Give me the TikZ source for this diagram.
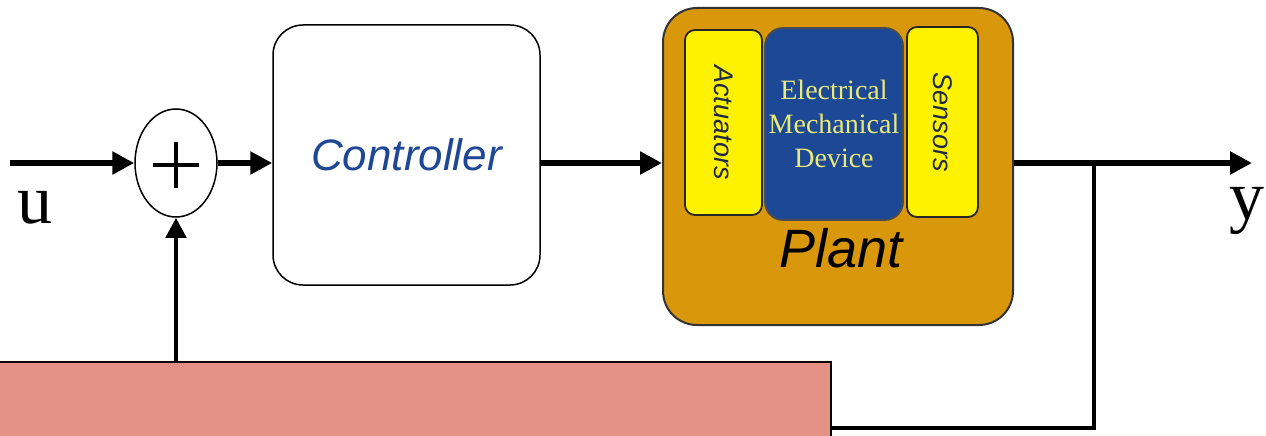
\documentclass[tikz,border=0pt]{standalone}
\usepackage{fontspec}
\setmainfont{Liberation Serif}
\setsansfont{Liberation Sans}
\usetikzlibrary{arrows.meta,shapes.geometric}

\definecolor{plantorange}{RGB}{217,152,12}
\definecolor{deviceblue}{RGB}{28,72,150}
\definecolor{paleyellow}{RGB}{234,234,120}
\definecolor{ctrlblue}{RGB}{30,72,150}
\definecolor{sidetext}{RGB}{30,42,70}
\definecolor{coverpink}{RGB}{230,145,133}

\begin{document}
\begin{tikzpicture}[x=1pt,y=-1pt,
  sig/.style={line width=5.5pt,-{Triangle[length=22pt,width=22pt]}},
  fb/.style={line width=4.5pt,-{Triangle[length=20pt,width=20pt]}},
  sumnode/.style={draw, ellipse, line width=1.5pt, minimum width=82pt, minimum height=108pt, inner sep=0pt},
  ctrlbox/.style={draw, line width=1.5pt, rounded corners=30pt, fill=white, minimum width=267pt, minimum height=260pt},
  plantbox/.style={draw=black!80, line width=2pt, rounded corners=34pt, fill=plantorange, minimum width=350pt, minimum height=317pt},
  sidebox/.style={draw=black!85, line width=1.8pt, rounded corners=10pt, fill=yellow, inner sep=0pt,
    font=\fontsize{27}{30}\selectfont\sffamily\itshape, text=sidetext},
  devbox/.style={draw=black!70, line width=1.8pt, rounded corners=18pt, fill=deviceblue, minimum width=138pt, minimum height=192pt,
    align=center, text=paleyellow, font=\fontsize{28}{34}\selectfont}]
  \useasboundingbox (0,0) rectangle (1266,436);

  % Summing junction
  \node[sumnode] (sum) at (176,163) {};
  \draw[line width=3.5pt] (sum.center) ++(-23,2) -- ++(46,0);
  \draw[line width=3.5pt] (sum.center) ++(0,-21) -- ++(0,46);

  % Controller
  \node[ctrlbox, text=ctrlblue, font=\fontsize{44}{48}\selectfont\sffamily\itshape] (ctrl) at (406.5,155) {Controller};

  % Plant
  \node[plantbox] (plant) at (838,166.5) {};
  \node[sidebox, rotate=-90, minimum width=185pt, minimum height=77pt] (act) at (723.5,122.5) {Actuators};
  \node[devbox] (dev) at (834,124) {Electrical\\Mechanical\\Device};
  \node[sidebox, rotate=-90, minimum width=190pt, minimum height=71pt] (sens) at (942.5,122) {Sensors};
  \node[font=\fontsize{54}{58}\selectfont\sffamily\itshape] (plantlbl) at (841,248) {Plant};

  % Signals
  \coordinate (uin) at (10,163);
  \coordinate (yout) at (1252,163);
  \coordinate (tap) at (1094,163);
  \coordinate (fbcorner) at (1094,428);
  \draw[sig] (uin) -- (sum.west);
  \draw[sig] (sum.east) -- (sum.east -| ctrl.west);
  \draw[sig] (sum.east -| ctrl.east) -- (sum.east -| plant.west);
  \draw[sig] (sum.east -| plant.east) -- (yout);

  % Feedback path
  \draw[fb] (tap) -- (fbcorner) -- (sum.south |- fbcorner) -- (sum.south);

  % Labels
  \node[font=\fontsize{70}{74}\selectfont] (ulbl) at (35,208) {u};
  \node[font=\fontsize{70}{74}\selectfont] (ylbl) at (1247,211) {y};

  % Cover
  \fill[coverpink, draw=black, line width=1.5pt] (-4,362) rectangle (831,444);
\end{tikzpicture}
\end{document}
